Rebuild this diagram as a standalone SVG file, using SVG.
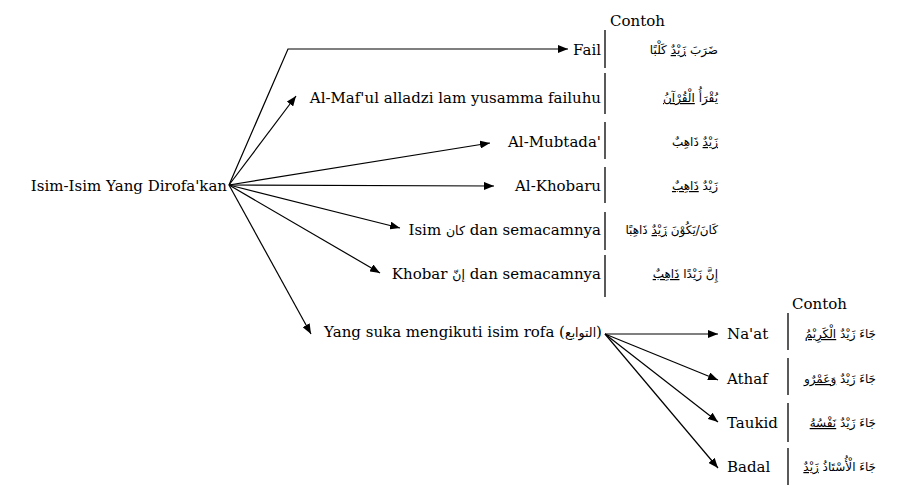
<svg xmlns="http://www.w3.org/2000/svg" width="903" height="497" viewBox="0 0 903 497">
<defs>
<marker id="ah" viewBox="0 0 10 8" refX="10" refY="4" markerWidth="10" markerHeight="8" markerUnits="userSpaceOnUse" orient="auto">
<path d="M0,0 L10,4 L0,8 Z" fill="#000"/>
</marker>
<style>
.lb{font-family:"DejaVu Serif","DejaVu Sans",serif;font-size:15px;fill:#000}
.ar{font-family:"DejaVu Sans",sans-serif;font-size:12px;fill:#000}
.ai{font-family:"DejaVu Sans",sans-serif;font-size:12.5px}
.u{text-decoration:underline}
.cn line,.cn polyline{stroke:#000;stroke-width:1.2;fill:none}
.sep{stroke:#000;stroke-width:1.3}
</style>
</defs>
<rect width="903" height="497" fill="#fff"/>
<g class="cn" id="connectors">
<polyline points="229,185 288,49 568,49" marker-end="url(#ah)"/>
<line x1="229" y1="185" x2="296" y2="96" marker-end="url(#ah)"/>
<line x1="229" y1="185" x2="490" y2="143" marker-end="url(#ah)"/>
<line x1="229" y1="185" x2="494" y2="186" marker-end="url(#ah)"/>
<line x1="229" y1="185" x2="400" y2="228" marker-end="url(#ah)"/>
<line x1="229" y1="185" x2="380" y2="273" marker-end="url(#ah)"/>
<line x1="229" y1="185" x2="311" y2="334" marker-end="url(#ah)"/>
<line x1="605" y1="334" x2="718" y2="334" marker-end="url(#ah)"/>
<line x1="605" y1="334" x2="718" y2="380" marker-end="url(#ah)"/>
<line x1="605" y1="334" x2="718" y2="422" marker-end="url(#ah)"/>
<line x1="605" y1="334" x2="718" y2="468" marker-end="url(#ah)"/>
</g>
<g id="root"><text class="lb" x="227" y="191" text-anchor="end">Isim-Isim Yang Dirofa'kan</text></g>
<g id="contoh1"><text class="lb" x="610" y="26">Contoh</text></g>
<g id="contoh2"><text class="lb" x="792" y="309">Contoh</text></g>
<g id="fail">
<text class="lb" x="601" y="55" text-anchor="end">Fail</text>
<line class="sep" x1="605" y1="30" x2="605" y2="68"/>
<text class="ar" x="718" y="54" text-anchor="end">ضَرَبَ <tspan class="u">زَيْدٌ</tspan> كَلْبًا</text>
</g>
<g id="mafuul">
<text class="lb" x="601" y="103" text-anchor="end">Al-Maf'ul alladzi lam yusamma failuhu</text>
<line class="sep" x1="605" y1="73" x2="605" y2="114"/>
<text class="ar" x="718" y="102" text-anchor="end">يُقْرَأُ <tspan class="u">الْقُرْآنُ</tspan></text>
</g>
<g id="mubtada">
<text class="lb" x="601" y="147" text-anchor="end">Al-Mubtada'</text>
<line class="sep" x1="605" y1="122" x2="605" y2="159"/>
<text class="ar" x="718" y="146" text-anchor="end"><tspan class="u">زَيْدٌ</tspan> ذَاهِبٌ</text>
</g>
<g id="khobaru">
<text class="lb" x="601" y="191" text-anchor="end">Al-Khobaru</text>
<line class="sep" x1="605" y1="167" x2="605" y2="203"/>
<text class="ar" x="718" y="190" text-anchor="end">زَيْدٌ <tspan class="u">ذَاهِبٌ</tspan></text>
</g>
<g id="isimkana">
<text class="lb" x="601" y="235" text-anchor="end">Isim <tspan class="ai">كان</tspan> dan semacamnya</text>
<line class="sep" x1="605" y1="212" x2="605" y2="250"/>
<text class="ar" x="718" y="234" text-anchor="end">كَانَ/يَكُوْنَ <tspan class="u">زَيْدٌ</tspan> ذَاهِبًا</text>
</g>
<g id="khobarinna">
<text class="lb" x="601" y="279" text-anchor="end">Khobar <tspan class="ai">إنّ</tspan> dan semacamnya</text>
<line class="sep" x1="605" y1="255" x2="605" y2="297"/>
<text class="ar" x="718" y="278" text-anchor="end">إِنَّ زَيْدًا <tspan class="u">ذَاهِبٌ</tspan></text>
</g>
<g id="tawabi">
<text class="lb" x="324" y="337">Yang suka mengikuti isim rofa (<tspan class="ai">التوابع</tspan>)</text>
</g>
<g id="naat">
<text class="lb" x="727" y="339">Na'at</text>
<line class="sep" x1="788" y1="313" x2="788" y2="350"/>
<text class="ar" x="876" y="338" text-anchor="end">جَاءَ زَيْدٌ <tspan class="u">الْكَرِيْمُ</tspan></text>
</g>
<g id="athaf">
<text class="lb" x="727" y="384">Athaf</text>
<line class="sep" x1="788" y1="358" x2="788" y2="395"/>
<text class="ar" x="876" y="383" text-anchor="end">جَاءَ زَيْدٌ <tspan class="u">وَعَمْرٌو</tspan></text>
</g>
<g id="taukid">
<text class="lb" x="727" y="428">Taukid</text>
<line class="sep" x1="788" y1="403" x2="788" y2="442"/>
<text class="ar" x="876" y="427" text-anchor="end">جَاءَ زَيْدٌ <tspan class="u">نَفْسُهُ</tspan></text>
</g>
<g id="badal">
<text class="lb" x="727" y="472">Badal</text>
<line class="sep" x1="788" y1="448" x2="788" y2="485"/>
<text class="ar" x="876" y="471" text-anchor="end">جَاءَ الْأُسْتَاذُ <tspan class="u">زَيْدٌ</tspan></text>
</g>
</svg>
